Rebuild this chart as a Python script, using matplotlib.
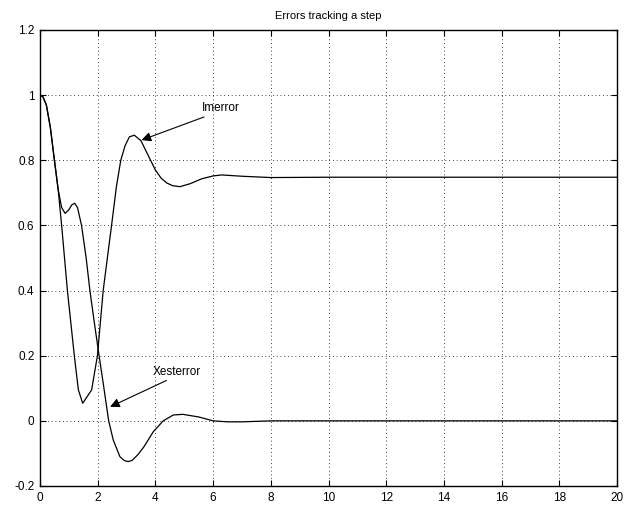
import matplotlib
matplotlib.use("Agg")
import matplotlib.pyplot as plt
from matplotlib.ticker import FixedLocator

plt.rcParams['font.family'] = ['Liberation Sans', 'DejaVu Sans']

# Imerror curve (time, value)
im_t = [0.0, 0.1, 0.22, 0.36, 0.5, 0.63, 0.75, 0.95, 1.19, 1.33, 1.48, 1.79,
        1.99, 2.19, 2.48, 2.65, 2.8, 2.95, 3.1, 3.27, 3.5, 3.75, 4.0, 4.2, 4.4,
        4.6, 4.85, 5.2, 5.6, 6.0, 6.3, 7.0, 8.0, 10.0, 12.0, 14.0, 16.0, 18.0, 20.0]
im_y = [1.0, 0.995, 0.97, 0.9, 0.8, 0.71, 0.6, 0.4, 0.2, 0.095, 0.054, 0.095,
        0.2, 0.4, 0.6, 0.72, 0.8, 0.845, 0.872, 0.877, 0.86, 0.815, 0.77, 0.745, 0.73,
        0.722, 0.719, 0.728, 0.743, 0.752, 0.755, 0.751, 0.747, 0.748, 0.748, 0.748, 0.748, 0.748, 0.748]

# Xesterror curve (time, value)
xe_t = [0.0, 0.1, 0.22, 0.36, 0.5, 0.63, 0.75, 0.87, 1.0, 1.1, 1.2, 1.3, 1.44,
        1.6, 1.73, 1.87, 2.02, 2.2, 2.38, 2.54, 2.77, 2.92, 3.06, 3.2, 3.4, 3.6, 3.93, 4.27,
        4.62, 4.95, 5.5, 6.0, 6.5, 7.0, 8.0, 10.0, 12.0, 14.0, 16.0, 18.0, 20.0]
xe_y = [1.0, 0.995, 0.97, 0.9, 0.8, 0.71, 0.655, 0.637, 0.648, 0.663, 0.668, 0.655, 0.6,
        0.5, 0.4, 0.31, 0.217, 0.11, 0.0, -0.059, -0.11, -0.122, -0.125, -0.121, -0.103, -0.08, -0.033, 0.0,
        0.018, 0.02, 0.012, 0.0, -0.003, -0.003, 0.0, 0.0, 0.0, 0.0, 0.0, 0.0, 0.0]

x_ticks = [0, 2, 4, 6, 8, 10, 12, 14, 16, 18, 20]
y_ticks = [-0.2, 0, 0.2, 0.4, 0.6, 0.8, 1, 1.2]
y_tick_labels = ['-0.2', '0', '0.2', '0.4', '0.6', '0.8', '1', '1.2']

fig = plt.figure(figsize=(6.27, 5.08), dpi=100)
ax = fig.add_axes([40/627, 22/508, 577/627, 456/508])

ax.plot(im_t, im_y, color='black', lw=0.9)
ax.plot(xe_t, xe_y, color='black', lw=0.9)

ax.set_xlim(0, 20)
ax.set_ylim(-0.2, 1.2)
ax.xaxis.set_major_locator(FixedLocator(x_ticks))
ax.set_xticklabels([str(v) for v in x_ticks])
ax.yaxis.set_major_locator(FixedLocator(y_ticks))
ax.set_yticklabels(y_tick_labels)
ax.tick_params(direction='in', top=True, right=True, length=4, width=0.8,
               labelsize=8.5, pad=4, colors='black')
ax.grid(True, color='black', linestyle=(0, (1, 3.5)), linewidth=0.6)
for s in ax.spines.values():
    s.set_linewidth(1.0)

ax.set_title('Errors tracking a step', fontsize=8, pad=8)

ax.annotate('Imerror', xy=(3.52, 0.862), xytext=(5.62, 0.96),
            fontsize=8.5, va='center', ha='left',
            arrowprops=dict(arrowstyle='-|>', color='black', lw=0.8,
                            mutation_scale=14, shrinkA=0, shrinkB=0,
                            relpos=(0.25, 0.0)))
ax.annotate('Xesterror', xy=(2.43, 0.043), xytext=(3.92, 0.151),
            fontsize=8.5, va='center', ha='left',
            arrowprops=dict(arrowstyle='-|>', color='black', lw=0.8,
                            mutation_scale=14, shrinkA=0, shrinkB=0,
                            relpos=(0.4, 0.0)))

fig.savefig('out.png', dpi=100)
